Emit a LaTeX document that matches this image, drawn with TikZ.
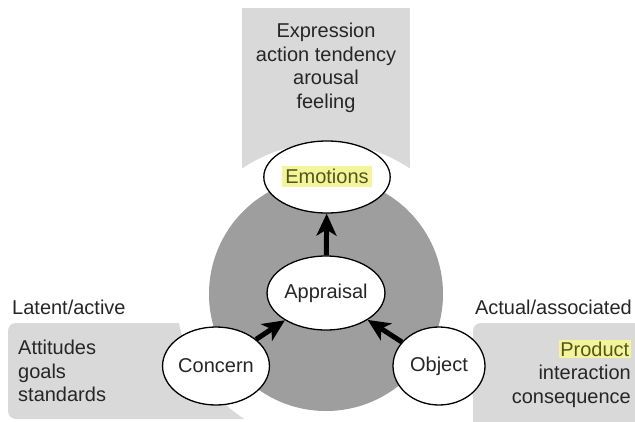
\documentclass[tikz,border=0pt]{standalone}
\usepackage{fontspec}
\setmainfont{Liberation Sans}
\usetikzlibrary{shapes.geometric,arrows.meta}
\definecolor{panel}{HTML}{D9D9D9}
\definecolor{ring}{HTML}{9E9E9E}
\definecolor{hl}{HTML}{F4F49A}
\definecolor{txt}{HTML}{262626}
\definecolor{hltxt}{HTML}{55551E}
\newcommand\figfont{\fontsize{20}{23.5}\selectfont}
\newcommand\hlbox[2]{{\setlength{\fboxsep}{#1}\colorbox{hl}{\textcolor{hltxt}{#2}}}}
\begin{document}
\begin{tikzpicture}[x=1pt,y=-1pt,
  bubble/.style={ellipse,draw=black,line width=1.3pt,fill=white,inner sep=0pt,font=\figfont,text=txt},
  flow/.style={line width=5pt,draw=black,-{Stealth[length=22pt,width=20pt,inset=6pt]}},
  label/.style={inner sep=0pt,font=\figfont,text=txt}
]
\useasboundingbox (0,0) rectangle (635,421);
% grey panels
\fill[panel] (242,8) rectangle (410,220);
\fill[panel,rounded corners=8pt] (8,323) rectangle (260,419);
\fill[panel,rounded corners=8pt] (473,323) rectangle (645,430);
% white halo and dark ring
\fill[white] (326,293) circle[radius=150pt];
\fill[ring] (326,294) circle[radius=117pt];
% ellipses
\node[bubble,minimum width=92pt,minimum height=72pt] (emo) at (327,177) {\raisebox{4pt}{\hlbox{3pt}{Emotions}}};
\node[bubble,minimum width=94pt,minimum height=74pt] (app) at (326,293) {Appraisal};
\node[bubble,minimum width=96pt,minimum height=78pt] (con) at (216,366) {Concern};
\node[bubble,minimum width=92pt,minimum height=78pt] (obj) at (439,366) {Object};
% arrows
\draw[flow] (app) -- (emo);
\draw[flow] (con) -- (app);
\draw[flow] (obj) -- (app);
% texts
\node[label,anchor=north,align=center] (toptext) at (326,23) {Expression\\action tendency\\arousal\\feeling};
\node[label,anchor=base west] (latent) at (12,314) {Latent/active};
\node[label,anchor=north west,align=left] (lefttext) at (18,340) {Attitudes\\goals\\standards};
\node[label,anchor=base east] (actual) at (632,314) {Actual/associated};
\node[label,anchor=north east,align=right] (righttext) at (631,340) {\hlbox{1.5pt}{Product}\\interaction\\consequence};
\end{tikzpicture}
\end{document}
